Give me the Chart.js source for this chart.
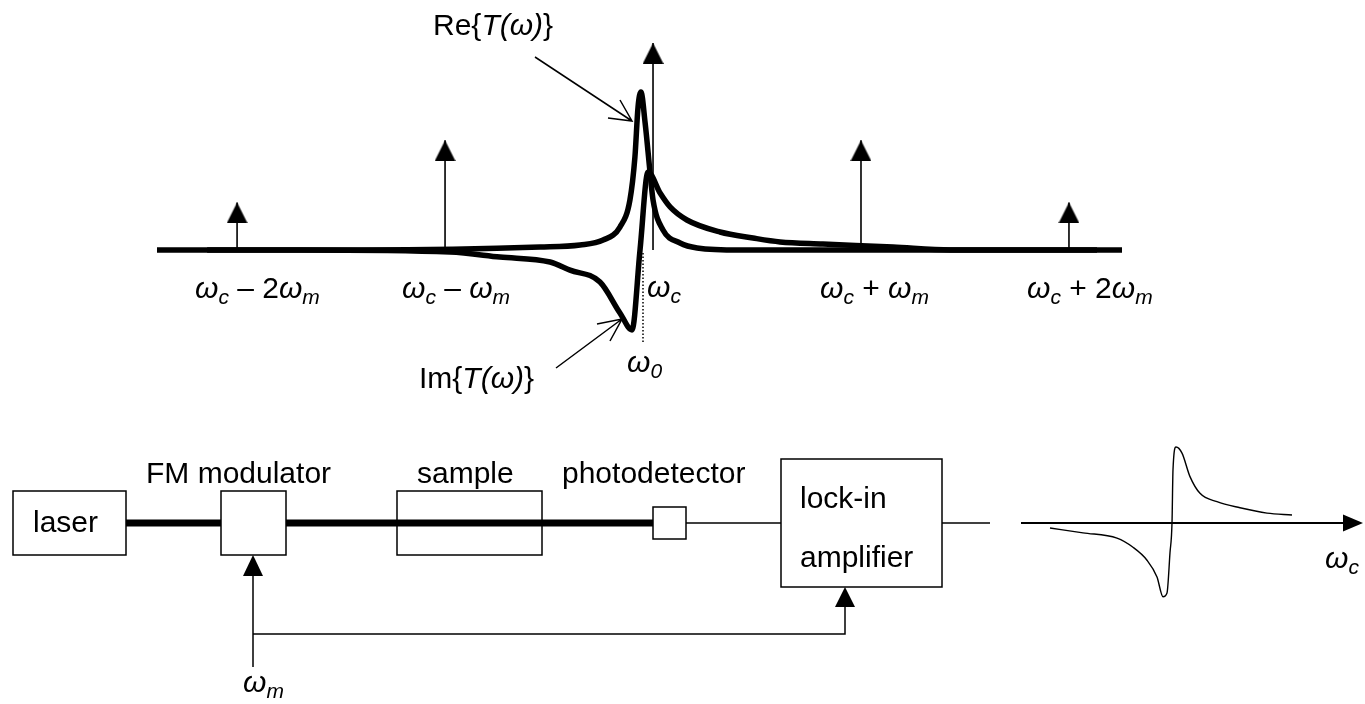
<!DOCTYPE html>
<html>
<head>
<meta charset="utf-8">
<script src="https://cdn.jsdelivr.net/npm/chart.js"></script>
<style>
  html, body { margin: 0; padding: 0; background: #fff; }
  #wrap { position: relative; width: 1365px; height: 704px; overflow: hidden; }
  canvas { position: absolute; }
  svg { position: absolute; left: 0; top: 0; }
  svg text { font-family: "Liberation Sans", Arial, sans-serif; font-size: 30px; fill: #000; }
  .it { font-style: italic; }
</style>
</head>
<body>
<div id="wrap">
  <canvas id="spectrum" width="1365" height="400" style="left:0;top:0"></canvas>
  <canvas id="signal" width="365" height="190" style="left:1000px;top:420px"></canvas>
  <svg width="1365" height="704" xmlns="http://www.w3.org/2000/svg">
    <g stroke="#000" stroke-width="1.5" fill="none">
      <!-- pointers to the two curves -->
      <path d="M535 57 L632 121 M608 118 L632 121 L620 100"/>
      <path d="M556 368 L622 319 M597 324 L622 319 L610 341"/>
      <line x1="643" y1="253" x2="643" y2="342" stroke-dasharray="1.5 2"/>

      <!-- block diagram -->
      <rect x="13" y="491" width="113" height="64"/>
      <rect x="221" y="491" width="65" height="64"/>
      <rect x="397" y="491" width="145" height="64"/>
      <rect x="653" y="507" width="33" height="32"/>
      <rect x="781" y="459" width="161" height="128"/>
      <line x1="686" y1="523" x2="781" y2="523"/>
      <line x1="942" y1="523" x2="990" y2="523"/>
      <path d="M253 667 L253 576 M253 634 L845 634 L845 607"/>
      <line x1="1021" y1="523" x2="1345" y2="523" stroke-width="2"/>
    </g>
    <g stroke="#000" stroke-width="7">
      <line x1="126" y1="523" x2="221" y2="523"/>
      <line x1="286" y1="523" x2="653" y2="523"/>
    </g>
    <g fill="#000">
      <polygon points="253,555 243,576 263,576"/>
      <polygon points="845,587 835,607 855,607"/>
      <polygon points="1363,523 1343,514.5 1343,531.5"/>
    </g>

    <text x="433" y="35">Re{<tspan class="it">T(ω)</tspan>}</text>
    <text x="419" y="388">Im{<tspan class="it">T(ω)</tspan>}</text>
    <text x="627" y="372"><tspan class="it">ω</tspan><tspan class="it" font-size="21" dy="6">0</tspan></text>

    <text x="195" y="298"><tspan class="it">ω</tspan><tspan class="it" font-size="21" dy="6">c</tspan><tspan dy="-6"> – 2</tspan><tspan class="it">ω</tspan><tspan class="it" font-size="21" dy="6">m</tspan></text>
    <text x="402" y="298"><tspan class="it">ω</tspan><tspan class="it" font-size="21" dy="6">c</tspan><tspan dy="-6"> – </tspan><tspan class="it">ω</tspan><tspan class="it" font-size="21" dy="6">m</tspan></text>
    <text x="647" y="297"><tspan class="it">ω</tspan><tspan class="it" font-size="21" dy="6">c</tspan></text>
    <text x="820" y="298"><tspan class="it">ω</tspan><tspan class="it" font-size="21" dy="6">c</tspan><tspan dy="-6"> + </tspan><tspan class="it">ω</tspan><tspan class="it" font-size="21" dy="6">m</tspan></text>
    <text x="1027" y="298"><tspan class="it">ω</tspan><tspan class="it" font-size="21" dy="6">c</tspan><tspan dy="-6"> + 2</tspan><tspan class="it">ω</tspan><tspan class="it" font-size="21" dy="6">m</tspan></text>

    <text x="33" y="532">laser</text>
    <text x="146" y="483">FM modulator</text>
    <text x="417" y="483">sample</text>
    <text x="562" y="483">photodetector</text>
    <text x="800" y="508">lock-in</text>
    <text x="800" y="567">amplifier</text>
    <text x="243" y="692"><tspan class="it">ω</tspan><tspan class="it" font-size="21" dy="6">m</tspan></text>
    <text x="1325" y="568"><tspan class="it">ω</tspan><tspan class="it" font-size="21" dy="6">c</tspan></text>
  </svg>
</div>
<script>
// carrier and sidebands, offsets in units of the modulation frequency
const sidebandOffsets = [-2, -1, 0, 1, 2];
const sidebandHeights = [0.23, 0.53, 1.0, 0.53, 0.23];

// Re{T(w)} absorption line
const reX = [-2.385, -1.4, -0.543, -0.351, -0.240, -0.159, -0.111, -0.087, -0.072, -0.058, -0.038, -0.014, 0, 0.048, 0.130, 0.212, 0.418, 2.255];
const reY = [0, 0, 0.014, 0.024, 0.048, 0.111, 0.242, 0.449, 0.691, 0.763, 0.614, 0.372, 0.242, 0.097, 0.034, 0.01, 0, 0];

// Im{T(w)} dispersion line
const imX = [-2.144, -1.7, -0.976, -0.736, -0.495, -0.399, -0.255, -0.159, -0.101, -0.0625, -0.024, 0.034, 0.082, 0.163, 0.322, 0.481, 0.611, 0.817, 1.154, 1.43, 2.135];
const imY = [0, 0, -0.01, -0.034, -0.058, -0.097, -0.155, -0.304, -0.386, 0, 0.377, 0.275, 0.208, 0.145, 0.087, 0.058, 0.039, 0.029, 0.014, 0, 0];

// lock-in output against carrier frequency
const outX = [-1.22, -0.89, -0.55, -0.39, -0.25, -0.15, -0.09, -0.05, -0.02, 0, 0.01, 0.04, 0.10, 0.18, 0.28, 0.45, 0.68, 0.95, 1.20];
const outY = [-0.066, -0.13, -0.2, -0.32, -0.49, -0.71, -0.97, -0.92, -0.39, 0, 0.70, 1.0, 0.92, 0.61, 0.39, 0.28, 0.20, 0.13, 0.105];

const toPoints = (xs, ys) => xs.map((x, i) => ({x: x, y: ys[i]}));

// filled arrow head whose tip sits on the point
function makeHead(w, h) {
    const c = document.createElement('canvas');
    c.width = w;
    c.height = h * 2;
    const g = c.getContext('2d');
    g.fillStyle = '#000';
    g.beginPath();
    g.moveTo(w / 2, h);
    g.lineTo(w, h * 2);
    g.lineTo(0, h * 2);
    g.closePath();
    g.fill();
    return c;
}

const stems = sidebandOffsets.flatMap((x, i) => [{x: x, y: 0}, {x: x, y: sidebandHeights[i]}, {x: x, y: null}]);
const heads = toPoints(sidebandOffsets, sidebandHeights);

const hidden = {display: false};

new Chart(document.getElementById('spectrum'), {
    type: 'line',
    data: {
        datasets: [
            {
                data: toPoints(reX, reY),
                borderColor: '#000',
                borderWidth: 5.5,
                pointRadius: 0,
                cubicInterpolationMode: 'monotone',
                clip: false
            },
            {
                data: toPoints(imX, imY),
                borderColor: '#000',
                borderWidth: 5.5,
                pointRadius: 0,
                cubicInterpolationMode: 'monotone',
                clip: false
            },
            {
                data: stems,
                borderColor: '#000',
                borderWidth: 1.6,
                pointRadius: 0,
                spanGaps: false,
                clip: false
            },
            {
                data: heads,
                showLine: false,
                pointStyle: makeHead(21, 21),
                pointRadius: 5,
                clip: false
            }
        ]
    },
    options: {
        responsive: false,
        animation: false,
        events: [],
        layout: {padding: {left: 157, right: 243, top: 43, bottom: 46.5}},
        plugins: {legend: hidden, tooltip: {enabled: false}},
        scales: {
            x: {type: 'linear', min: -2.385, max: 2.255, display: false},
            y: {min: -0.5, max: 1.0, display: false}
        }
    }
});

new Chart(document.getElementById('signal'), {
    type: 'line',
    data: {
        datasets: [{
            data: toPoints(outX, outY),
            borderColor: '#000',
            borderWidth: 1.4,
            pointRadius: 0,
            cubicInterpolationMode: 'monotone',
            clip: false
        }]
    },
    options: {
        responsive: false,
        animation: false,
        events: [],
        layout: {padding: 0},
        plugins: {legend: hidden, tooltip: {enabled: false}},
        scales: {
            x: {type: 'linear', min: -1.72, max: 1.93, display: false},
            y: {min: -1.145, max: 1.355, display: false}
        }
    }
});
</script>
</body>
</html>
